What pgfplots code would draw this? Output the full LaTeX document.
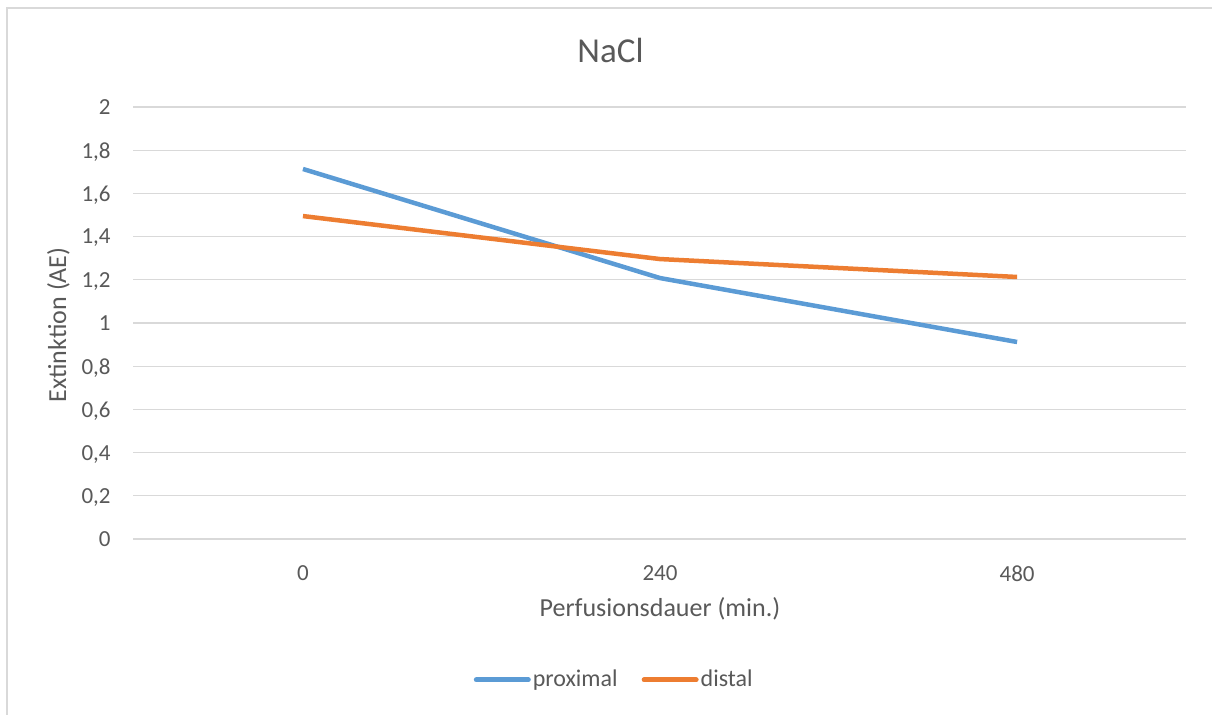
\documentclass[border=0pt]{standalone}
\usepackage{fontspec}
\setmainfont{Carlito}
\usepackage{pgfplots}
\pgfplotsset{compat=1.18}

\definecolor{xlblue}{HTML}{5B9BD5}
\definecolor{xlorange}{HTML}{ED7D31}
\definecolor{xlgrid}{HTML}{D9D9D9}
\definecolor{xltext}{HTML}{595959}

\begin{document}
\begin{tikzpicture}
  % page = 1212 x 715 px at 0.5pt per px
  \path[use as bounding box] (0,0) rectangle (606pt,357.5pt);
  \draw[xlgrid, line width=0.75pt] (3.5pt,0pt) -- (3.5pt,353.5pt) -- (610pt,353.5pt);

  \node[anchor=base, text=xltext, font=\fontsize{17.5}{20}\selectfont, inner sep=0pt] at (305.25pt,326pt) {NaCl};
  \node[anchor=base, text=xltext, font=\fontsize{13}{15}\selectfont, inner sep=0pt] at (330pt,49pt) {Perfusionsdauer (min.)};
  \node[anchor=base, rotate=90, text=xltext, font=\fontsize{13}{15}\selectfont, inner sep=0pt] at (33pt,195pt) {Extinktion (AE)};

  \begin{axis}[
    at={(66.5pt,88pt)}, anchor=south west,
    scale only axis,
    width=526.5pt, height=216pt,
    xmin=-0.476, xmax=2.473,
    ymin=0, ymax=2,
    xtick=data,
    xticklabels={0,240,480},
    ytick={0,0.2,0.4,0.6,0.8,1,1.2,1.4,1.6,1.8,2},
    yticklabels={0,{0,2},{0,4},{0,6},{0,8},1,{1,2},{1,4},{1,6},{1,8},2},
    major tick length=0pt,
    axis line style={draw=none},
    ymajorgrids,
    grid style={xlgrid, line width=0.6pt},
    tick label style={text=xltext, font=\fontsize{11.5}{13}\selectfont, inner sep=0pt},
    yticklabel style={anchor=east, text depth=0pt, xshift=-11pt},
    xticklabel style={anchor=north, yshift=-13.25pt},
    clip=false,
    legend columns=2,
    legend style={at={(axis description cs:0.457,-0.326)}, anchor=center,
      draw=none, fill=none, text=xltext, font=\fontsize{12}{14}\selectfont,
      /tikz/every even column/.append style={column sep=11pt},
      nodes={inner sep=1pt}},
    legend image code/.code={\draw[#1, line width=2.5pt, line cap=round] (1pt,0pt) -- (27pt,0pt);},
  ]
    \addplot[xlblue, line width=2.25pt, line join=round] coordinates {(0,1.713) (1,1.208) (2,0.912)};
    \addlegendentry{proximal}
    \addplot[xlorange, line width=2.25pt, line join=round] coordinates {(0,1.495) (1,1.296) (2,1.213)};
    \addlegendentry{distal}
  \end{axis}
\end{tikzpicture}
\end{document}
